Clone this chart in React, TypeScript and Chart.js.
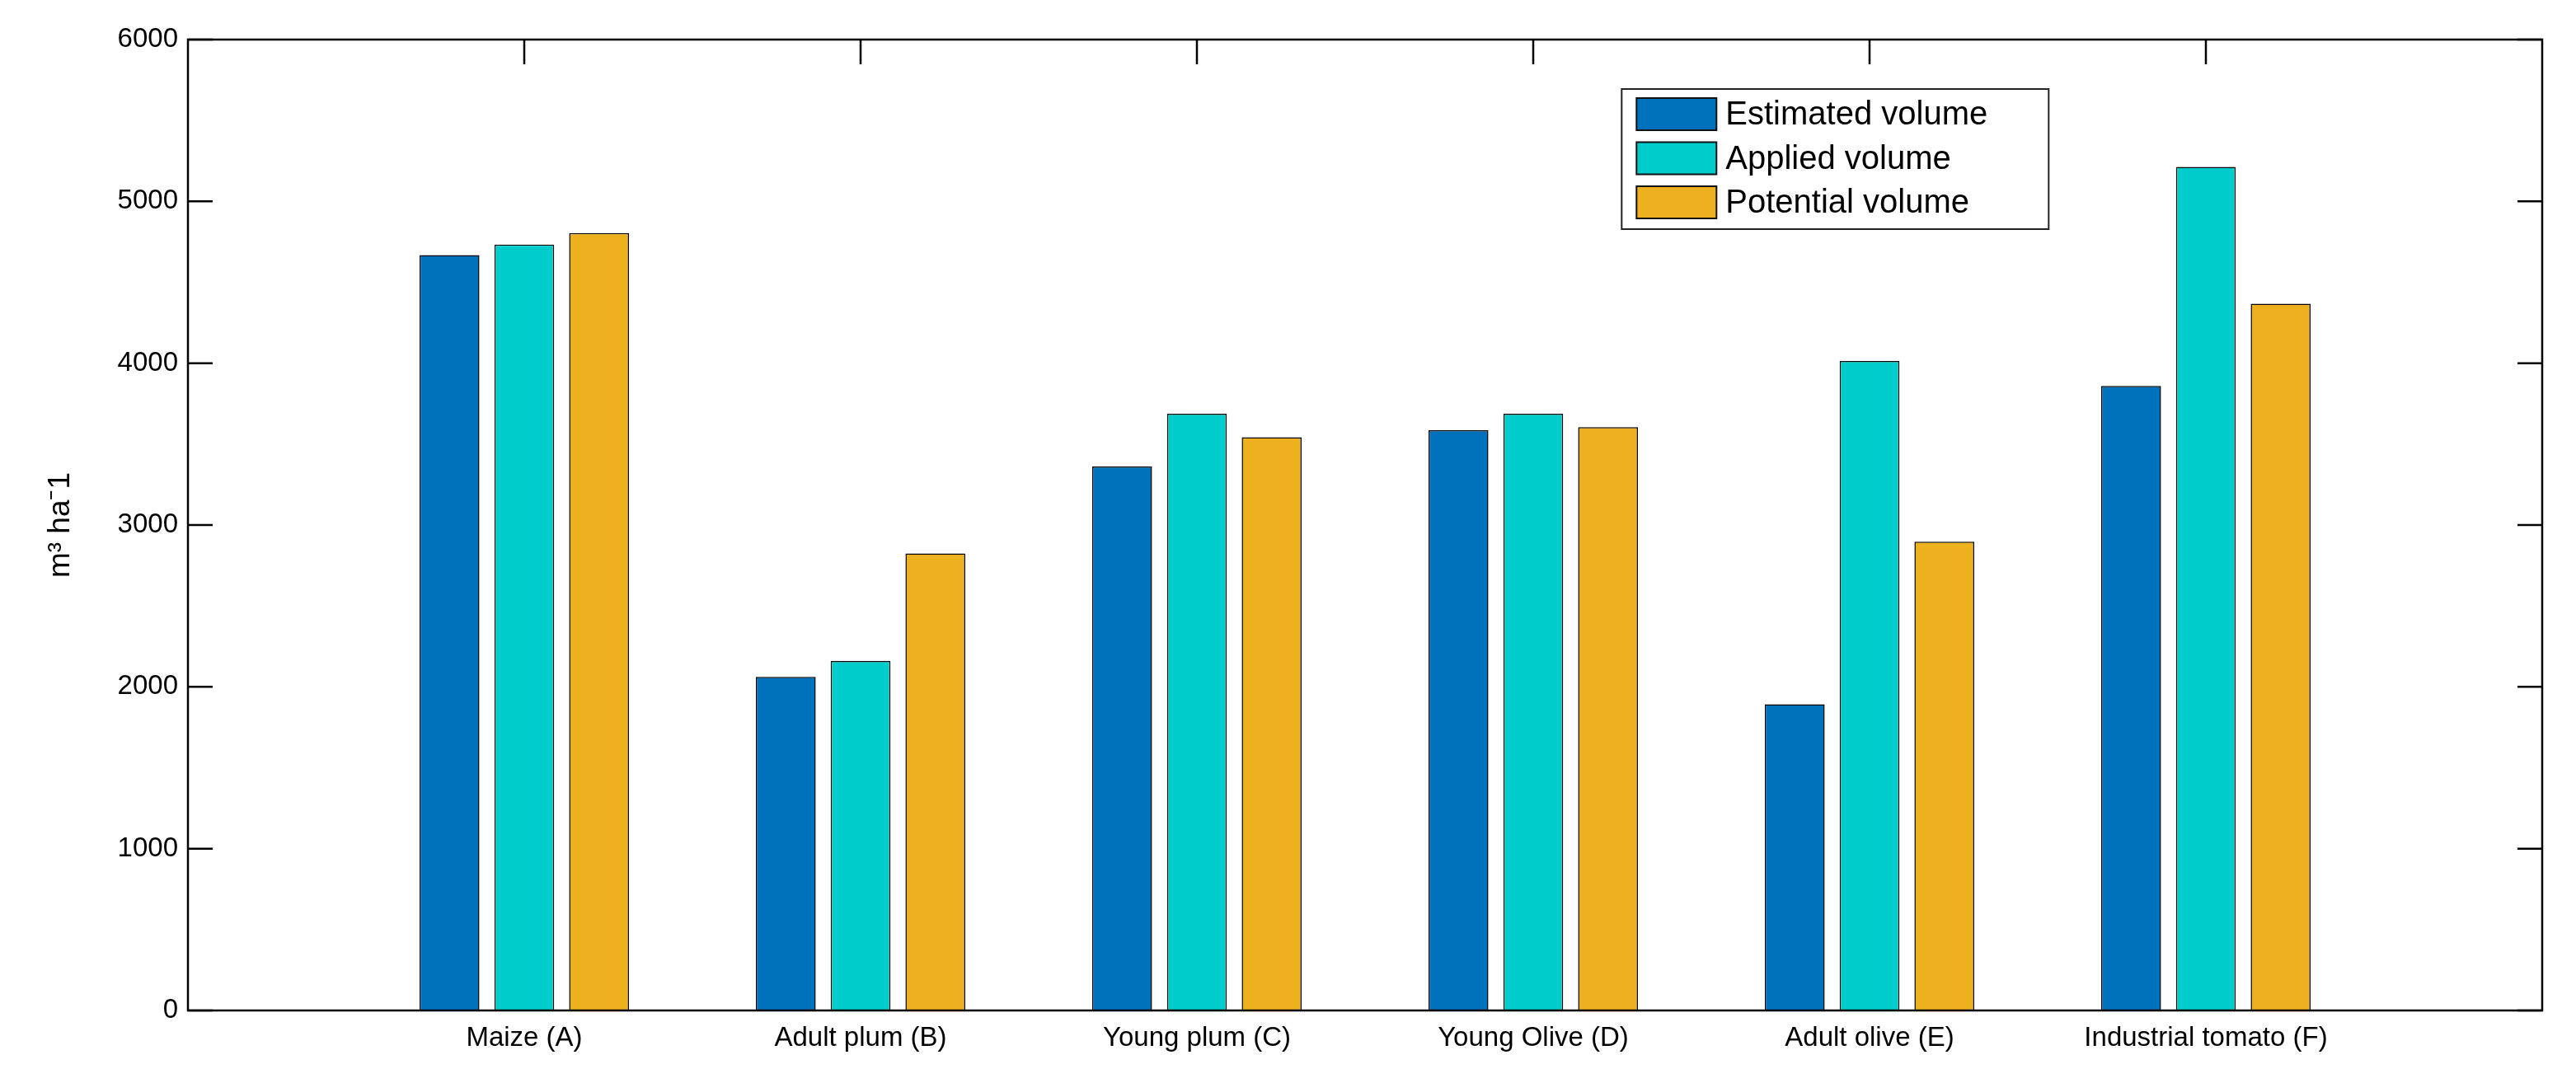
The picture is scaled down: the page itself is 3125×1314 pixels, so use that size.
import React, { useEffect, useRef } from 'react';
import { Chart, registerables } from 'chart.js';

Chart.register(...registerables);

// ---- data ----
const categories = [
  'Maize (A)',
  'Adult plum (B)',
  'Young plum (C)',
  'Young Olive (D)',
  'Adult olive (E)',
  'Industrial tomato (F)',
];
const estimatedVolume = [4668, 2062, 3361, 3586, 1892, 3860];
const appliedVolume = [4733, 2160, 3688, 3688, 4014, 5213];
const potentialVolume = [4804, 2824, 3542, 3605, 2897, 4367];
const seriesNames = ['Estimated volume', 'Applied volume', 'Potential volume'];
const seriesColors = ['#0072BD', '#00CCCC', '#EDB120'];
const yMin = 0;
const yMax = 6000;
const yStep = 1000;
const yAxisTitle = 'm\u00B3 ha\u207B1';

const FONT = '"Liberation Sans", Arial, Helvetica, sans-serif';

// pad categories so the x range runs from 0 to 7 (one empty unit each side)
const paddedLabels = ['', ...categories, ''];
const pad = (arr: number[]) => [null, ...arr, null];

const frameTicksPlugin = {
  id: 'frameTicks',
  beforeDatasetsDraw(chart: any) {
    const { ctx, chartArea: ca, scales } = chart;
    const xs = scales.x;
    const ys = scales.y;
    const len = 30;
    ctx.save();
    ctx.strokeStyle = '#000';
    ctx.lineWidth = 2.5;
    ctx.beginPath();
    ys.ticks.forEach((t: any) => {
      const y = ys.getPixelForValue(t.value);
      ctx.moveTo(ca.left, y);
      ctx.lineTo(ca.left + len, y);
      ctx.moveTo(ca.right, y);
      ctx.lineTo(ca.right - len, y);
    });
    for (let i = 1; i <= categories.length; i++) {
      const x = xs.getPixelForValue(i);
      ctx.moveTo(x, ca.top);
      ctx.lineTo(x, ca.top + len);
      ctx.moveTo(x, ca.bottom);
      ctx.lineTo(x, ca.bottom - len);
    }
    ctx.stroke();
    ctx.restore();
  },
  afterDatasetsDraw(chart: any) {
    const { ctx, chartArea: ca } = chart;
    ctx.save();
    ctx.strokeStyle = '#000';
    ctx.lineWidth = 2.5;
    ctx.strokeRect(ca.left, ca.top, ca.right - ca.left, ca.bottom - ca.top);

    // legend box
    const w = ca.right - ca.left;
    const lx = ca.left + 0.609 * w;
    const ly = ca.top + 60;
    const lw = 518;
    const lh = 170;
    ctx.fillStyle = '#fff';
    ctx.fillRect(lx, ly, lw, lh);
    ctx.lineWidth = 2;
    ctx.strokeStyle = '#222';
    ctx.strokeRect(lx, ly, lw, lh);
    ctx.font = `40px ${FONT}`;
    ctx.textBaseline = 'middle';
    ctx.textAlign = 'left';
    chart.data.datasets.forEach((ds: any, i: number) => {
      const sy = ly + 11 + i * 53.5;
      ctx.fillStyle = ds.backgroundColor;
      ctx.fillRect(lx + 18, sy, 97, 39);
      ctx.lineWidth = 2;
      ctx.strokeStyle = '#111';
      ctx.strokeRect(lx + 18, sy, 97, 39);
      ctx.fillStyle = '#000';
      ctx.fillText(ds.label, lx + 126, sy + 21);
    });
    ctx.restore();
  },
};

export default function App() {
  const canvasRef = useRef<HTMLCanvasElement | null>(null);

  useEffect(() => {
    if (!canvasRef.current) return;
    const datasets = [estimatedVolume, appliedVolume, potentialVolume].map((vals, i) => ({
      label: seriesNames[i],
      data: pad(vals),
      backgroundColor: seriesColors[i],
      borderColor: '#000',
      borderWidth: 1.5,
      categoryPercentage: 0.667,
      barPercentage: 0.8,
    }));
    const chart = new Chart(canvasRef.current, {
      type: 'bar',
      data: { labels: paddedLabels, datasets: datasets as any },
      options: {
        animation: false,
        responsive: true,
        maintainAspectRatio: false,
        devicePixelRatio: 1,
        layout: { padding: { left: 0, right: 41, top: 48, bottom: 0 } },
        plugins: {
          legend: { display: false },
          tooltip: { enabled: false },
          title: { display: false },
        },
        scales: {
          x: {
            type: 'category',
            offset: false,
            grid: { display: false, drawTicks: false },
            border: { display: false },
            ticks: {
              autoSkip: false,
              maxRotation: 0,
              minRotation: 0,
              padding: 14,
              color: '#000',
              font: { family: FONT, size: 33 },
            },
            afterFit: (scale: any) => {
              scale.height = 88;
            },
          },
          y: {
            min: yMin,
            max: yMax,
            grid: { display: false, drawTicks: false },
            border: { display: false },
            ticks: {
              stepSize: yStep,
              padding: 12,
              color: '#000',
              font: { family: FONT, size: 33 },
              callback: (v: any) => String(v),
            },
            title: {
              display: true,
              text: yAxisTitle,
              color: '#000',
              font: { family: FONT, size: 37 },
              padding: { top: 52, bottom: 0 },
            },
            afterFit: (scale: any) => {
              scale.width = 228;
            },
          },
        },
      },
      plugins: [frameTicksPlugin],
    });
    return () => chart.destroy();
  }, []);

  return (
    <div
      style={{
        position: 'fixed',
        left: 0,
        top: 0,
        width: '3125px',
        height: '1314px',
        background: '#fff',
      }}
    >
      <canvas ref={canvasRef} />
    </div>
  );
}
